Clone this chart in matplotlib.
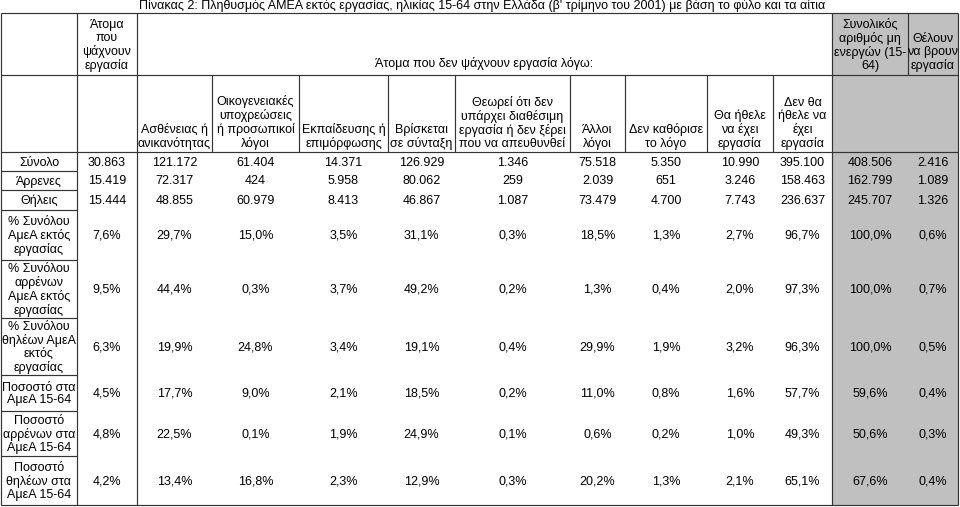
import matplotlib
matplotlib.use("Agg")
import matplotlib.pyplot as plt
from matplotlib.patches import Rectangle

plt.rcParams['font.family'] = ['Liberation Sans', 'DejaVu Sans']

title = "Πίνακας 2: Πληθυσμός ΑΜΕΑ εκτός εργασίας, ηλικίας 15-64 στην Ελλάδα (β' τρίμηνο του 2001) με βάση το φύλο και τα αίτια"

# column headers
searching_header = "Άτομα\nπου\nψάχνουν\nεργασία"
not_searching_header = "Άτομα που δεν ψάχνουν εργασία λόγω:"
reasons = ["Ασθένειας ή\nανικανότητας",
           "Οικογενειακές\nυποχρεώσεις\nή προσωπικοί\nλόγοι",
           "Εκπαίδευσης ή\nεπιμόρφωσης",
           "Βρίσκεται\nσε σύνταξη",
           "Θεωρεί ότι δεν\nυπάρχει διαθέσιμη\nεργασία ή δεν ξέρει\nπου να απευθυνθεί",
           "Άλλοι\nλόγοι",
           "Δεν καθόρισε\nτο λόγο",
           "Θα ήθελε\nνα έχει\nεργασία",
           "Δεν θα\nήθελε να\nέχει\nεργασία"]
total_header = "Συνολικός\nαριθμός μη\nενεργών (15-\n64)"
want_header = "Θέλουν\nνα βρουν\nεργασία"

row_labels = ["Σύνολο", "Άρρενες", "Θήλεις",
              "% Συνόλου\nΑμεΑ εκτός\nεργασίας",
              "% Συνόλου\nαρρένων\nΑμεΑ εκτός\nεργασίας",
              "% Συνόλου\nθηλέων ΑμεΑ\nεκτός\nεργασίας",
              "Ποσοστό στα\nΑμεΑ 15-64",
              "Ποσοστό\nαρρένων στα\nΑμεΑ 15-64",
              "Ποσοστό\nθηλέων στα\nΑμεΑ 15-64"]

# counts (persons)
total_counts = [30863, 121172, 61404, 14371, 126929, 1346, 75518, 5350, 10990, 395100, 408506, 2416]
male_counts = [15419, 72317, 424, 5958, 80062, 259, 2039, 651, 3246, 158463, 162799, 1089]
female_counts = [15444, 48855, 60979, 8413, 46867, 1087, 73479, 4700, 7743, 236637, 245707, 1326]

# percentages
pct_total_inactive = [7.6, 29.7, 15.0, 3.5, 31.1, 0.3, 18.5, 1.3, 2.7, 96.7, 100.0, 0.6]
pct_male_inactive = [9.5, 44.4, 0.3, 3.7, 49.2, 0.2, 1.3, 0.4, 2.0, 97.3, 100.0, 0.7]
pct_female_inactive = [6.3, 19.9, 24.8, 3.4, 19.1, 0.4, 29.9, 1.9, 3.2, 96.3, 100.0, 0.5]
pct_total_1564 = [4.5, 17.7, 9.0, 2.1, 18.5, 0.2, 11.0, 0.8, 1.6, 57.7, 59.6, 0.4]
pct_male_1564 = [4.8, 22.5, 0.1, 1.9, 24.9, 0.1, 0.6, 0.2, 1.0, 49.3, 50.6, 0.3]
pct_female_1564 = [4.2, 13.4, 16.8, 2.3, 12.9, 0.3, 20.2, 1.3, 2.1, 65.1, 67.6, 0.4]

# layout (pixels)
col_edges = [1, 77, 137, 212, 299, 388, 455, 570, 625, 707, 773, 832, 908, 958]
row_edges = [13, 75, 152, 171, 190, 210, 260, 318, 375, 411, 456, 505]
LINE = '#333333'
GRAY = '#c0c0c0'
FS = 9.0
LS = 1.1


def fmt_count(v):
    return f"{v:,}".replace(",", ".")


def fmt_pct(v):
    return f"{v:.1f}".replace(".", ",") + "%"


def hline(ax, y, x0, x1):
    ax.plot([x0, x1], [y, y], color=LINE, lw=0.85, solid_capstyle='butt')


def vline(ax, x, y0, y1):
    ax.plot([x, x], [y0, y1], color=LINE, lw=0.85, solid_capstyle='butt')


def draw_table():
    fig = plt.figure(figsize=(9.6, 5.07), dpi=100)
    ax = fig.add_axes([0, 0, 1, 1])
    ax.set_xlim(0, 960)
    ax.set_ylim(507, 0)
    ax.axis('off')

    top, h1, h2, bottom = row_edges[0], row_edges[1], row_edges[2], row_edges[-1]
    left, right = col_edges[0], col_edges[-1]
    gx0, gx1 = col_edges[11], col_edges[13]

    ax.add_patch(Rectangle((gx0, top), gx1 - gx0, bottom - top, facecolor=GRAY, edgecolor='none'))

    # title
    ax.text((col_edges[2] + col_edges[11]) / 2 - 2, 6, title, ha='center', va='center', fontsize=FS)

    # borders
    hline(ax, top, left, right)
    hline(ax, h1, left, right)
    hline(ax, h2, left, right)
    hline(ax, bottom, left, right)
    for y in row_edges[3:-1]:
        hline(ax, y, left, col_edges[1])
    for x in [left, col_edges[1], col_edges[2], gx0, right]:
        vline(ax, x, top, bottom)
    vline(ax, col_edges[12], top, h1)
    for x in col_edges[3:11]:
        vline(ax, x, h1, h2)

    def center(i, j):
        return (col_edges[i] + col_edges[j]) / 2

    # header row 1
    ax.text(center(1, 2), h1 - 3, searching_header, ha='center', va='bottom', fontsize=FS, linespacing=LS)
    ax.text(center(2, 11), h1 - 5, not_searching_header, ha='center', va='bottom', fontsize=FS)
    ax.text(center(11, 12), h1 - 3, total_header, ha='center', va='bottom', fontsize=FS, linespacing=LS)
    ax.text(center(12, 13), h1 - 3, want_header, ha='center', va='bottom', fontsize=FS, linespacing=LS)

    # header row 2
    for k, txt in enumerate(reasons):
        ax.text(center(k + 2, k + 3), h2 - 2, txt, ha='center', va='bottom', fontsize=FS, linespacing=LS)

    # body
    rows = [total_counts, male_counts, female_counts,
            pct_total_inactive, pct_male_inactive, pct_female_inactive,
            pct_total_1564, pct_male_1564, pct_female_1564]
    for r, (label, vals) in enumerate(zip(row_labels, rows)):
        yc = (row_edges[r + 2] + row_edges[r + 3]) / 2 + 1
        ax.text(center(0, 1), yc, label, ha='center', va='center', fontsize=FS, linespacing=LS)
        for c, v in enumerate(vals):
            s = fmt_count(v) if r < 3 else fmt_pct(v)
            ax.text(center(c + 1, c + 2), yc, s, ha='center', va='center', fontsize=FS)

    fig.savefig('out.png', dpi=100)
    plt.close(fig)


if __name__ == "__main__":
    draw_table()
